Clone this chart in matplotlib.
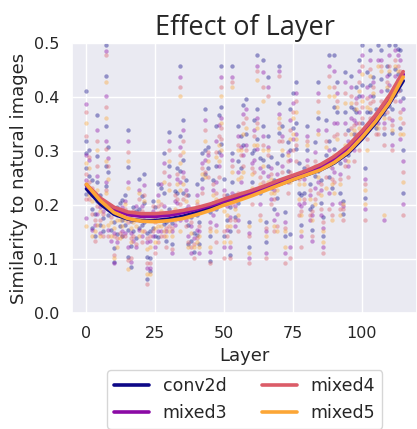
import numpy as np
import matplotlib.pyplot as plt
import seaborn as sns

# similarity values, one list per layer (index = layer)
conv2d_pts = [
    [0.412, 0.318, 0.296, 0.268, 0.221], [0.302, 0.254, 0.226], [0.247, 0.193, 0.158], [0.183, 0.142],
    [0.366, 0.291, 0.243, 0.207], [0.218, 0.163], [0.207, 0.152, 0.176], [0.497, 0.438, 0.347, 0.272, 0.236],
    [0.308, 0.262, 0.181], [0.198, 0.153], [0.168, 0.121, 0.094], [0.196, 0.147],
    [0.203, 0.161], [0.209, 0.172, 0.143], [0.218, 0.163], [0.338, 0.271, 0.153, 0.104],
    [0.171, 0.124, 0.086], [0.197, 0.152], [0.188, 0.139], [0.248, 0.192, 0.157],
    [0.217, 0.163], [0.257, 0.204, 0.168], [0.148, 0.103, 0.063], [0.151, 0.102, 0.078],
    [0.207, 0.158], [0.196, 0.142], [0.238, 0.184, 0.141], [0.232, 0.173],
    [0.297, 0.223, 0.164], [0.168, 0.133], [0.336, 0.272, 0.193], [0.167, 0.128],
    [0.226, 0.183], [0.268, 0.223], [0.457, 0.327, 0.263, 0.188], [0.357, 0.284, 0.223],
    [0.247, 0.193], [0.218, 0.163, 0.128], [0.177, 0.133], [0.148, 0.113],
    [0.238, 0.182, 0.144], [0.168, 0.127], [0.297, 0.248], [0.378, 0.302, 0.257],
    [0.307, 0.268], [0.187, 0.142, 0.096], [0.247, 0.203], [0.347, 0.272, 0.193],
    [0.366, 0.298], [0.457, 0.382, 0.313], [0.248, 0.201, 0.143], [0.218, 0.172],
    [0.197, 0.152, 0.108], [0.458, 0.297, 0.243], [0.218, 0.177], [0.347, 0.281, 0.203],
    [0.327, 0.268], [0.386, 0.312], [0.397, 0.332], [0.168, 0.123],
    [0.297, 0.243], [0.357, 0.302], [0.477, 0.378, 0.322], [0.287, 0.223],
    [0.468, 0.347, 0.283], [0.168, 0.131], [0.437, 0.327, 0.272], [0.288, 0.232],
    [0.247, 0.193], [0.278, 0.213], [0.457, 0.388, 0.333], [0.347, 0.292],
    [0.187, 0.143], [0.317, 0.263], [0.378, 0.302, 0.147], [0.407, 0.343],
    [0.428, 0.352, 0.303], [0.277, 0.223], [0.218, 0.163], [0.268, 0.222],
    [0.347, 0.302], [0.238, 0.193], [0.198, 0.153], [0.317, 0.253],
    [0.428, 0.362, 0.263], [0.247, 0.203], [0.178, 0.142], [0.357, 0.292],
    [0.477, 0.318, 0.252], [0.287, 0.232], [0.478, 0.382, 0.303], [0.427, 0.372],
    [0.278, 0.223], [0.208, 0.183], [0.447, 0.372, 0.303], [0.338, 0.292],
    [0.438, 0.382], [0.377, 0.332], [0.418, 0.372], [0.468, 0.402, 0.323],
    [0.497, 0.423, 0.352], [0.268, 0.213], [0.447, 0.372], [0.487, 0.423, 0.372],
    [0.437, 0.402], [0.378, 0.343], [0.496, 0.372], [0.487, 0.433],
    [0.368, 0.332], [0.458, 0.413], [0.496, 0.443, 0.383], [0.377, 0.333],
    [0.497, 0.452, 0.403], [0.488, 0.442], [0.487, 0.413, 0.343], [0.398, 0.302, 0.223],
]
mixed3_pts = [
    [0.387, 0.292, 0.247, 0.176], [0.283, 0.232], [0.218, 0.154], [0.163],
    [0.338, 0.254, 0.183], [0.197, 0.148], [0.188], [0.485, 0.402, 0.318, 0.243],
    [0.287, 0.154], [0.188, 0.134], [0.149, 0.092], [0.182, 0.131],
    [0.188], [0.197, 0.152], [0.207, 0.148], [0.318, 0.243, 0.122],
    [0.148, 0.094], [0.183, 0.133], [0.198, 0.122], [0.228, 0.153],
    [0.198, 0.142], [0.237, 0.173], [0.132, 0.083], [0.133, 0.084],
    [0.188, 0.143], [0.178, 0.123], [0.218, 0.152], [0.238, 0.152],
    [0.278, 0.198], [0.152], [0.318, 0.253, 0.172], [0.152, 0.112],
    [0.208, 0.163], [0.248, 0.203], [0.437, 0.308, 0.243, 0.172], [0.338, 0.262],
    [0.228, 0.172], [0.198, 0.142], [0.162, 0.112], [0.138],
    [0.218, 0.153], [0.152, 0.112], [0.278, 0.232], [0.357, 0.283],
    [0.292], [0.168, 0.113], [0.228, 0.182], [0.318, 0.243, 0.163],
    [0.348, 0.272], [0.437, 0.362, 0.293], [0.228, 0.123], [0.198, 0.153],
    [0.178, 0.122], [0.437, 0.283, 0.222], [0.198, 0.162], [0.328, 0.262, 0.172],
    [0.308, 0.243], [0.368, 0.292], [0.378, 0.312], [0.148, 0.102],
    [0.278, 0.222], [0.338, 0.283], [0.458, 0.362, 0.303], [0.268, 0.202],
    [0.447, 0.328, 0.262], [0.152, 0.112], [0.418, 0.308, 0.253], [0.268, 0.212],
    [0.228, 0.172], [0.258, 0.183], [0.448, 0.368], [0.328, 0.273],
    [0.168, 0.112], [0.298, 0.243], [0.358, 0.283, 0.123], [0.388, 0.322],
    [0.408, 0.332], [0.258, 0.202], [0.198, 0.142], [0.248, 0.203],
    [0.328, 0.283], [0.218, 0.172], [0.182, 0.133], [0.298, 0.232],
    [0.408, 0.338, 0.243], [0.228, 0.182], [0.158, 0.122], [0.338, 0.272],
    [0.458, 0.302, 0.222], [0.268, 0.202], [0.448, 0.352, 0.262], [0.408, 0.352],
    [0.258, 0.203], [0.198], [0.428, 0.352, 0.283], [0.318, 0.272],
    [0.418, 0.362], [0.358, 0.302], [0.398, 0.352], [0.448, 0.372],
    [0.478, 0.402, 0.333], [0.248, 0.192], [0.418, 0.342], [0.468, 0.402],
    [0.428], [0.368], [0.468, 0.352], [0.468, 0.412],
    [0.352, 0.172], [0.438, 0.392], [0.478, 0.422], [0.358, 0.312],
    [0.487, 0.438], [0.478, 0.432], [0.468, 0.392, 0.322], [0.378, 0.282, 0.202],
]
mixed4_pts = [
    [0.372, 0.328, 0.258, 0.212], [0.288, 0.243, 0.212], [0.232, 0.183], [0.172, 0.133],
    [0.318, 0.272, 0.198], [0.208, 0.172], [0.183, 0.143], [0.478, 0.382, 0.303, 0.228],
    [0.272, 0.193, 0.143], [0.178], [0.143, 0.108], [0.188, 0.138],
    [0.182, 0.148], [0.188, 0.142], [0.192, 0.142], [0.298, 0.168, 0.098],
    [0.138, 0.102], [0.188, 0.142], [0.172, 0.128], [0.212, 0.172],
    [0.188, 0.132], [0.218, 0.152], [0.138, 0.092, 0.054], [0.142, 0.092],
    [0.198, 0.152], [0.168, 0.112], [0.198, 0.132], [0.202, 0.142],
    [0.262, 0.182, 0.142], [0.158, 0.122], [0.302, 0.238, 0.162], [0.158, 0.118],
    [0.218, 0.172], [0.258, 0.212], [0.418, 0.292, 0.202], [0.318, 0.252, 0.212],
    [0.218, 0.162], [0.188, 0.132], [0.168, 0.122], [0.128, 0.102],
    [0.202, 0.138], [0.162], [0.268, 0.222], [0.338, 0.262],
    [0.298, 0.252], [0.158, 0.092], [0.238, 0.192], [0.298, 0.222, 0.132],
    [0.328, 0.252], [0.418, 0.342, 0.322], [0.218, 0.152, 0.102], [0.208, 0.142],
    [0.172, 0.102], [0.428, 0.272, 0.202], [0.208, 0.172], [0.312, 0.222, 0.152],
    [0.292, 0.222], [0.352, 0.272], [0.362, 0.302], [0.142, 0.092],
    [0.268, 0.202], [0.328, 0.262], [0.448, 0.352], [0.252, 0.182],
    [0.418, 0.312, 0.242], [0.158, 0.102], [0.402, 0.292], [0.258, 0.202],
    [0.212, 0.152], [0.238, 0.162], [0.438, 0.352, 0.318], [0.318, 0.262],
    [0.158, 0.092], [0.282, 0.222], [0.338, 0.262, 0.102], [0.372, 0.302],
    [0.392, 0.312, 0.282], [0.248, 0.182], [0.188, 0.122], [0.258, 0.212],
    [0.318, 0.272], [0.228, 0.182], [0.188, 0.142], [0.282, 0.212],
    [0.392, 0.272, 0.222], [0.238, 0.192], [0.168, 0.112], [0.318, 0.252],
    [0.438, 0.282, 0.192], [0.248, 0.182], [0.418, 0.328, 0.242], [0.392, 0.332],
    [0.248, 0.192], [0.192, 0.172], [0.408, 0.332, 0.272], [0.308, 0.252],
    [0.402, 0.342], [0.348, 0.282], [0.388, 0.332], [0.428, 0.352, 0.302],
    [0.458, 0.382, 0.362], [0.238, 0.172], [0.398, 0.322], [0.452, 0.388, 0.362],
    [0.418, 0.392], [0.358, 0.332], [0.362, 0.332], [0.458, 0.392],
    [0.342, 0.312], [0.428, 0.372], [0.458, 0.402, 0.362], [0.348, 0.302],
    [0.468, 0.418, 0.392], [0.458, 0.412], [0.448, 0.372], [0.352, 0.262, 0.182],
]
mixed5_pts = [
    [0.352, 0.278, 0.238, 0.162], [0.268, 0.218], [0.208, 0.143], [0.152],
    [0.302, 0.228, 0.163], [0.188, 0.142], [0.198, 0.162], [0.428, 0.362, 0.282, 0.222],
    [0.248, 0.163], [0.168, 0.142], [0.158, 0.102], [0.172, 0.122],
    [0.172, 0.138], [0.178, 0.162], [0.202, 0.172], [0.282, 0.232, 0.082],
    [0.158, 0.132], [0.168], [0.162], [0.222, 0.142],
    [0.178, 0.152], [0.208, 0.182], [0.118, 0.072], [0.122, 0.072],
    [0.178], [0.158, 0.132], [0.208, 0.162], [0.188, 0.162],
    [0.242, 0.152], [0.142], [0.282, 0.228, 0.152], [0.142],
    [0.192], [0.238], [0.402, 0.278, 0.228, 0.152], [0.298, 0.238],
    [0.208, 0.182], [0.178, 0.122], [0.148], [0.122],
    [0.208, 0.132], [0.142, 0.122], [0.258], [0.318, 0.252],
    [0.282], [0.152, 0.122], [0.218], [0.288, 0.212, 0.152],
    [0.312, 0.282], [0.402, 0.352, 0.302], [0.212, 0.188, 0.132], [0.182, 0.162],
    [0.162, 0.132], [0.418, 0.262, 0.212], [0.192], [0.302, 0.248, 0.182],
    [0.302, 0.252], [0.332, 0.262], [0.342], [0.162, 0.112],
    [0.258, 0.232], [0.312], [0.432, 0.342, 0.312], [0.238, 0.172],
    [0.392, 0.302, 0.272], [0.142], [0.302, 0.242], [0.248, 0.222],
    [0.222, 0.162], [0.228, 0.152], [0.362, 0.342], [0.302],
    [0.152, 0.122], [0.292, 0.252], [0.322, 0.242], [0.362, 0.332],
    [0.372, 0.322], [0.238, 0.212], [0.182, 0.152], [0.238],
    [0.312], [0.212], [0.172], [0.272, 0.202],
    [0.372, 0.332, 0.252], [0.218], [0.152, 0.132], [0.308, 0.232],
    [0.418, 0.402, 0.272], [0.238, 0.172], [0.402, 0.292, 0.222], [0.382, 0.322],
    [0.238, 0.182], [0.202], [0.388, 0.312], [0.302, 0.282],
    [0.388, 0.332], [0.338, 0.312], [0.378], [0.412, 0.342],
    [0.442, 0.392], [0.228, 0.202], [0.382, 0.302], [0.438, 0.378],
    [0.408], [0.348], [0.458, 0.342], [0.448, 0.378],
    [0.362, 0.182], [0.418, 0.398], [0.448, 0.392], [0.338],
    [0.458, 0.408], [0.448, 0.418], [0.432, 0.362, 0.332], [0.332, 0.242],
]

# fitted trend lines
trend_x = [0, 5, 10, 15, 20, 25, 30, 35, 40, 45, 50, 55, 60, 65, 70, 75, 80, 85, 90, 95, 100, 105, 110, 115]
conv2d_fit = [0.230, 0.202, 0.183, 0.174, 0.171, 0.171, 0.174, 0.179, 0.186, 0.194, 0.203, 0.211,
              0.220, 0.229, 0.238, 0.247, 0.256, 0.265, 0.278, 0.296, 0.322, 0.352, 0.388, 0.430]
mixed3_fit = [0.236, 0.210, 0.192, 0.182, 0.179, 0.179, 0.181, 0.186, 0.192, 0.199, 0.207, 0.215,
              0.223, 0.232, 0.242, 0.251, 0.260, 0.270, 0.285, 0.304, 0.331, 0.360, 0.396, 0.442]
mixed4_fit = [0.238, 0.213, 0.196, 0.187, 0.184, 0.184, 0.186, 0.190, 0.195, 0.202, 0.211, 0.219,
              0.227, 0.236, 0.246, 0.255, 0.264, 0.275, 0.290, 0.310, 0.337, 0.367, 0.403, 0.447]
mixed5_fit = [0.238, 0.208, 0.186, 0.175, 0.170, 0.169, 0.171, 0.175, 0.182, 0.190, 0.200, 0.208,
              0.217, 0.227, 0.237, 0.247, 0.256, 0.265, 0.279, 0.298, 0.325, 0.355, 0.390, 0.437]

names = ['conv2d', 'mixed3', 'mixed4', 'mixed5']
colors = ['#0d0887', '#8b0aa5', '#db5c68', '#fca636']

sns.set_theme(style='darkgrid')

fig = plt.figure(figsize=(4.17, 4.29), dpi=100)
ax = fig.add_axes([0.173, 0.2704, 0.827, 0.6294])

for pts, c in zip([conv2d_pts, mixed3_pts, mixed4_pts, mixed5_pts], colors):
    xs = [layer for layer, ys in enumerate(pts) for _ in ys]
    ys = [y for ys in pts for y in ys]
    ax.scatter(xs, ys, s=10, color=c, alpha=0.4, linewidths=0)

for fit, name, c in zip([conv2d_fit, mixed3_fit, mixed4_fit, mixed5_fit], names, colors):
    ax.plot(trend_x, fit, color=c, lw=2.6, label=name)

ax.set_xlim(-5.2, 120)
ax.set_ylim(0, 0.5)
ax.set_xticks([0, 25, 50, 75, 100])
ax.set_yticks([0.0, 0.1, 0.2, 0.3, 0.4, 0.5])
ax.tick_params(labelsize=11.5)
ax.set_xlabel('Layer', fontsize=13)
ax.set_ylabel('Similarity to natural images', fontsize=13)
ax.set_title('Effect of Layer', fontsize=19.5, family='Open Sans')

ax.legend(loc='upper center', bbox_to_anchor=(0.5, -0.18), ncol=2, fontsize=12.5,
          frameon=True, facecolor='white', edgecolor='#cccccc')

fig.savefig('out.png', dpi=100)
